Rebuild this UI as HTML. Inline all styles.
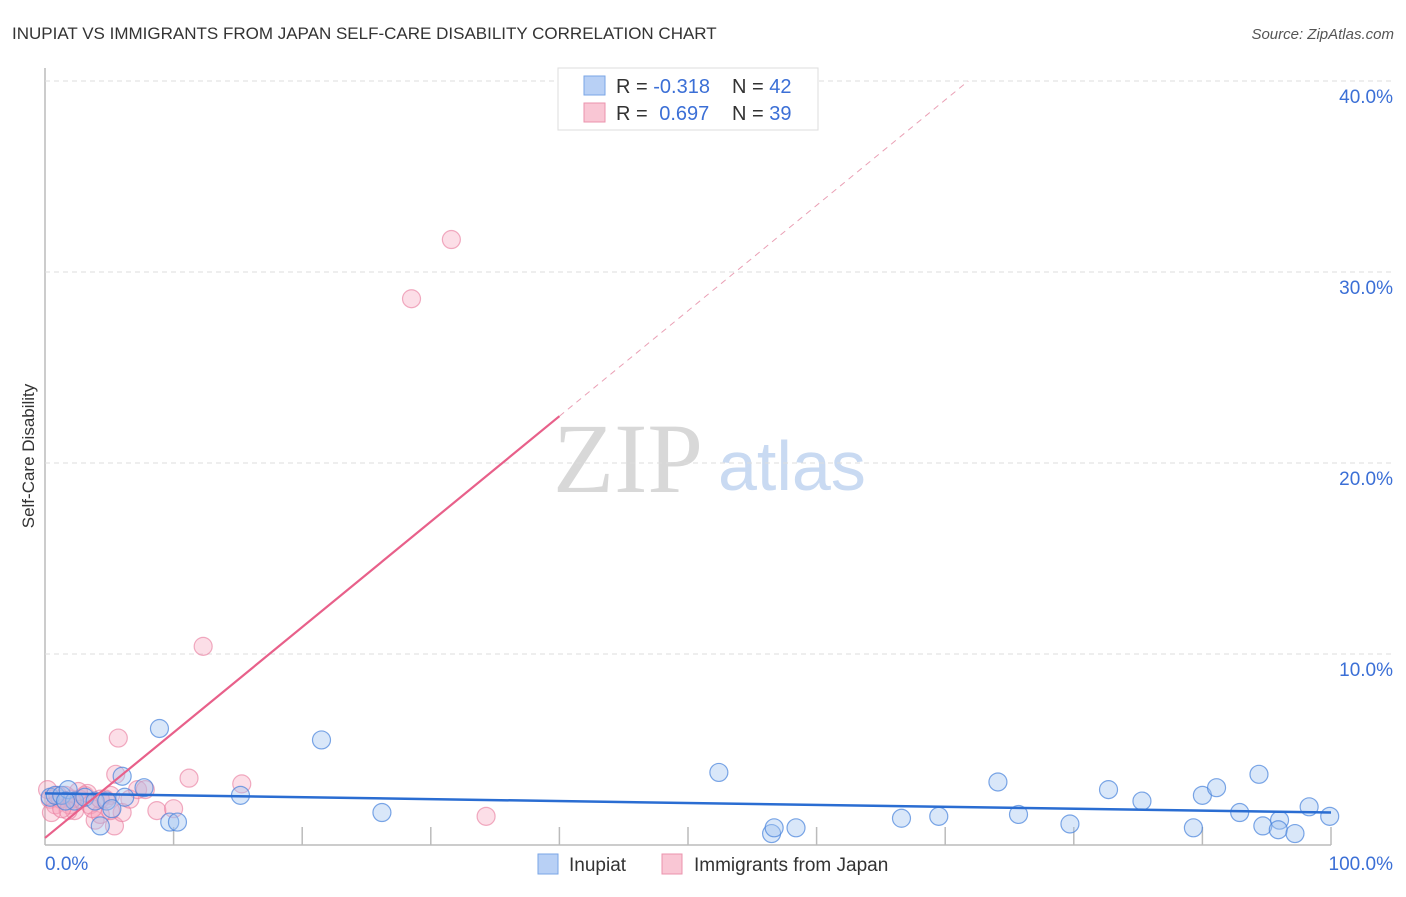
<!DOCTYPE html>
<html><head><meta charset="utf-8"><style>
body{margin:0;background:#fff;font-family:"Liberation Sans",sans-serif;}
</style></head><body>
<svg id="chart" width="1406" height="892" font-family="Liberation Sans, sans-serif">
<text x="12" y="39" font-size="17" fill="#333">INUPIAT VS IMMIGRANTS FROM JAPAN SELF-CARE DISABILITY CORRELATION CHART</text>
<text x="1394" y="39" font-size="15" fill="#555" font-style="italic" text-anchor="end">Source: ZipAtlas.com</text>
<text x="34" y="456" font-size="17" fill="#333" text-anchor="middle" transform="rotate(-90 34 456)">Self-Care Disability</text>
<text x="553" y="492" font-size="100" fill="#d8d8d8" style="font-family:'Liberation Serif',serif">ZIP</text>
<text x="718" y="490" font-size="70" fill="#c9daf2">atlas</text>
<g id="grid"></g><g id="pts"></g><g id="lines"></g>
<g>
<rect x="558" y="68" width="260" height="62" fill="#fff" stroke="#ddd"/>
<rect x="584" y="76" width="21" height="19" fill="#b8d0f5" stroke="#7aa6e6"/>
<rect x="584" y="103" width="21" height="19" fill="#f9c6d4" stroke="#eb93ad"/>
<text x="616" y="93" font-size="20" fill="#333">R = <tspan fill="#3b6fd6">-0.318</tspan></text>
<text x="732" y="93" font-size="20" fill="#333">N = <tspan fill="#3b6fd6">42</tspan></text>
<text x="616" y="120" font-size="20" fill="#333">R = <tspan fill="#3b6fd6" dx="6">0.697</tspan></text>
<text x="732" y="120" font-size="20" fill="#333">N = <tspan fill="#3b6fd6">39</tspan></text>
</g>
<g>
<rect x="538" y="854" width="20" height="20" fill="#b8d0f5" stroke="#7aa6e6"/>
<text x="569" y="871" font-size="19" fill="#333">Inupiat</text>
<rect x="662" y="854" width="20" height="20" fill="#f9c6d4" stroke="#eb93ad"/>
<text x="694" y="871" font-size="19" fill="#333">Immigrants from Japan</text>
</g>
</svg>
<script>
const yTicks=[10,20,30,40];
const xTickLabels=["0.0%","100.0%"];
const inupiatX=[0.4,0.8,1.3,1.8,2.3,3.1,3.9,4.3,4.8,5.2,6.0,6.2,7.7,8.9,9.7,10.3,15.2,21.5,26.2,52.4,56.5,56.7,58.4,66.6,69.5,74.1,75.7,79.7,82.7,85.3,89.3,90.0,91.1,92.9,94.4,94.7,96.0,95.9,97.2,98.3,99.9,1.6];
const inupiatY=[2.5,2.6,2.6,2.9,2.3,2.5,2.3,1.0,2.3,1.9,3.6,2.5,3.0,6.1,1.2,1.2,2.6,5.5,1.7,3.8,0.6,0.9,0.9,1.4,1.5,3.3,1.6,1.1,2.9,2.3,0.9,2.6,3.0,1.7,3.7,1.0,1.3,0.8,0.6,2.0,1.5,2.3];
const japanX=[0.2,0.4,0.8,1.2,1.6,1.9,2.3,2.7,3.1,3.5,3.9,4.3,4.7,5.1,5.4,5.7,5.5,6.0,6.6,7.2,7.8,8.7,10.0,11.2,12.3,15.3,28.5,31.6,34.3,1.0,2.1,3.3,3.7,2.6,4.3,1.8,0.5,5.1,1.3];
const japanY=[2.9,2.4,2.1,2.4,2.6,2.1,1.8,2.4,2.6,2.1,1.3,1.6,2.4,2.6,1.0,5.6,3.7,1.7,2.4,2.9,2.9,1.8,1.9,3.5,10.4,3.2,28.6,31.7,1.5,2.6,2.4,2.7,1.9,2.8,2.4,1.8,1.7,1.8,1.9];
const blueFit=[2.7,1.7];
const pinkFit=[0.37,0.552];
const sx=v=>45+v*12.86, sy=v=>845-v*19.1;
const NS="http://www.w3.org/2000/svg";
function mk(t,a,p){const e=document.createElementNS(NS,t);for(const k in a)e.setAttribute(k,a[k]);document.getElementById(p).appendChild(e);return e;}
let e;
e=mk('line',{x1:45,y1:68,x2:45,y2:845,stroke:'#bbb','stroke-width':1.5},'grid');


e=mk('line',{x1:45,y1:845,x2:1331,y2:845,stroke:'#bbb','stroke-width':1.5},'grid');


for(let i=1;i<=10;i++){e=mk('line',{x1:sx(i*10),y1:827,x2:sx(i*10),y2:845,stroke:'#bbb','stroke-width':1.5},'grid');

}
yTicks.forEach(v=>{e=mk('line',{x1:45,y1:sy(v),x2:1394,y2:sy(v),stroke:'#ddd','stroke-dasharray':'5,4'},'grid');


e=mk('text',{x:1393,y:sy(v)+22,'font-size':19,fill:'#3b6fd6','text-anchor':'end'},'grid');e.textContent=v.toFixed(1)+'%';

});
e=mk('text',{x:45,y:870,'font-size':19,fill:'#3b6fd6'},'grid');e.textContent=xTickLabels[0];


e=mk('text',{x:1393,y:870,'font-size':19,fill:'#3b6fd6','text-anchor':'end'},'grid');e.textContent=xTickLabels[1];


japanX.forEach((x,i)=>{e=mk('circle',{cx:sx(x),cy:sy(japanY[i]),r:9,fill:'rgba(245,160,185,0.35)',stroke:'rgba(232,120,155,0.6)','stroke-width':1.2},'pts');

});
inupiatX.forEach((x,i)=>{e=mk('circle',{cx:sx(x),cy:sy(inupiatY[i]),r:9,fill:'rgba(160,195,240,0.4)',stroke:'rgba(70,130,220,0.7)','stroke-width':1.2},'pts');

});
e=mk('line',{x1:sx(0),y1:sy(blueFit[0]),x2:sx(100),y2:sy(blueFit[1]),stroke:'#2a6dd2','stroke-width':2.5},'lines');


const pf=x=>pinkFit[0]+pinkFit[1]*x;
e=mk('line',{x1:sx(0),y1:sy(pf(0)),x2:sx(40),y2:sy(pf(40)),stroke:'#e8608a','stroke-width':2.2},'lines');


const xe=(40-pinkFit[0])/pinkFit[1];
e=mk('line',{x1:sx(40),y1:sy(pf(40)),x2:sx(xe),y2:sy(40),stroke:'#eaa0b5','stroke-width':1,'stroke-dasharray':'6,5'},'lines');


</script>
</body></html>
